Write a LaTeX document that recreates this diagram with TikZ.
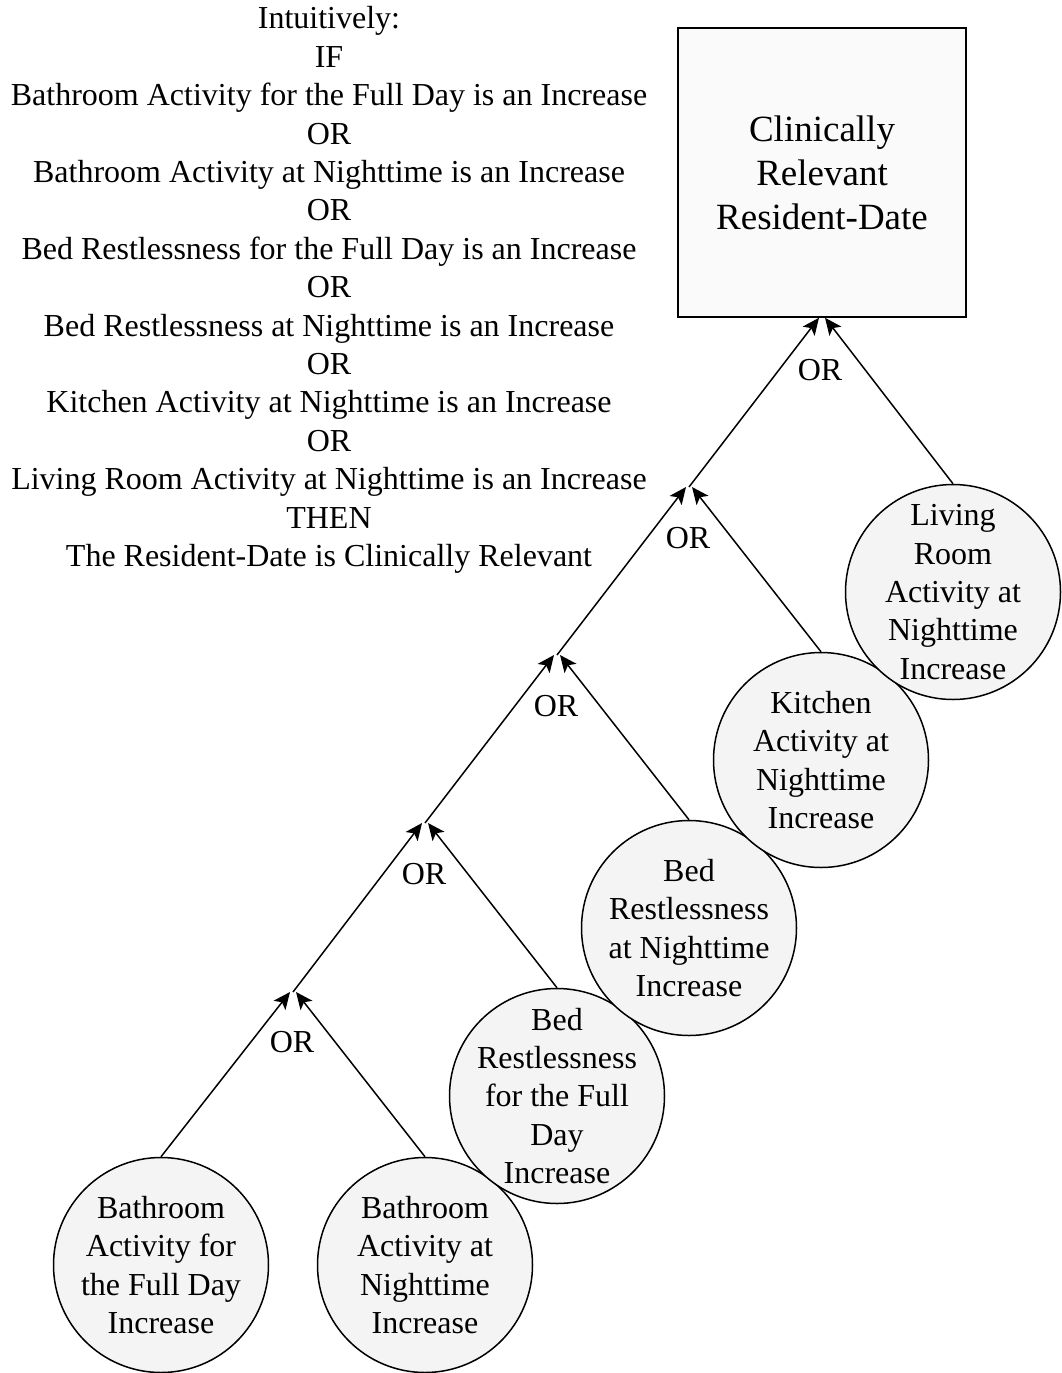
\documentclass[tikz,border=0pt]{standalone}
\usepackage{fontspec}
\setmainfont{Liberation Serif}
\usetikzlibrary{arrows.meta}
\begin{document}
\begin{tikzpicture}[x=1pt,y=-1pt,
  leaf/.style={circle,draw,line width=1.5pt,fill=gray!9,minimum size=215pt,inner sep=0pt},
  leaftext/.style={align=center,inner sep=0pt,font=\fontsize{32}{38.4}\selectfont},
  goal/.style={rectangle,draw,line width=1.5pt,fill=gray!4,minimum width=288pt,
    minimum height=289pt,align=center,font=\fontsize{37}{44}\selectfont},
  link/.style={line width=1.5pt,-{Stealth[length=17pt,width=15pt,inset=4pt]}},
  gatelabel/.style={font=\fontsize{32}{38.4}\selectfont},
  rule/.style={align=center,font=\fontsize{32}{38.4}\selectfont}
]
\useasboundingbox (0,0) rectangle (1062,1373);

% rule written out in words
\node[rule] (rule) at (329,290) {Intuitively:\\IF\\
Bathroom Activity for the Full Day is an Increase\\OR\\
Bathroom Activity at Nighttime is an Increase\\OR\\
Bed Restlessness for the Full Day is an Increase\\OR\\
Bed Restlessness at Nighttime is an Increase\\OR\\
Kitchen Activity at Nighttime is an Increase\\OR\\
Living Room Activity at Nighttime is an Increase\\THEN\\
The Resident-Date is Clinically Relevant};

% outcome
\node[goal] (goal) at (822,172.5) {Clinically\\Relevant\\Resident-Date};

% input conditions (fixed-size circles, text set on top)
\node[leaf] (c1) at (161,1265) {};
\node[leaf] (c2) at (425,1265) {};
\node[leaf] (c3) at (557,1096) {};
\node[leaf] (c4) at (689,928) {};
\node[leaf] (c5) at (821,760) {};
\node[leaf] (c6) at (953,592) {};

\node[leaftext] (t1) at (c1) {Bathroom\\Activity for\\the Full Day\\Increase};
\node[leaftext] (t2) at (c2) {Bathroom\\Activity at\\Nighttime\\Increase};
\node[leaftext] (t3) at (c3) {Bed\\Restlessness\\for the Full\\Day\\Increase};
\node[leaftext] (t4) at (c4) {Bed\\Restlessness\\at Nighttime\\Increase};
\node[leaftext] (t5) at (c5) {Kitchen\\Activity at\\Nighttime\\Increase};
\node[leaftext] (t6) at (c6) {Living\\Room\\Activity at\\Nighttime\\Increase};

% OR junctions
\coordinate (j1) at (293,992);
\coordinate (j2) at (425,823);
\coordinate (j3) at (557,655);
\coordinate (j4) at (689,487);
\coordinate (j5) at (goal.south);

\node[gatelabel] (or1) at (292,1042) {OR};
\node[gatelabel] (or2) at (424,874) {OR};
\node[gatelabel] (or3) at (556,706) {OR};
\node[gatelabel] (or4) at (688,538) {OR};
\node[gatelabel] (or5) at (820,370) {OR};

% connectors
\draw[link] (c1.north) -- ([xshift=-3pt]j1);
\draw[link] (c2.north) -- ([xshift=3pt]j1);
\draw[link] (j1) -- ([xshift=-3pt]j2);
\draw[link] (c3.north) -- ([xshift=3pt]j2);
\draw[link] (j2) -- ([xshift=-3pt]j3);
\draw[link] (c4.north) -- ([xshift=3pt]j3);
\draw[link] (j3) -- ([xshift=-3pt]j4);
\draw[link] (c5.north) -- ([xshift=3pt]j4);
\draw[link] (j4) -- ([xshift=-3pt]j5);
\draw[link] (c6.north) -- ([xshift=3pt]j5);
\end{tikzpicture}
\end{document}
